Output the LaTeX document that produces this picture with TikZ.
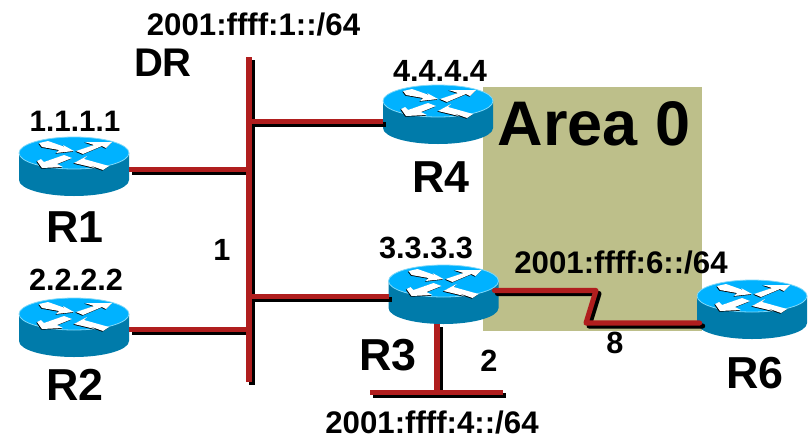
\documentclass[tikz,border=0pt]{standalone}
\usepackage{fontspec}
\setmainfont{Liberation Sans}
\definecolor{rtop}{HTML}{00B2FF}
\definecolor{rside}{HTML}{007BAA}
\definecolor{redge}{HTML}{7FD8F8}
\definecolor{area}{HTML}{BDBF8A}
\definecolor{linkred}{HTML}{B01E1E}
\newcommand{\ptfont}[1]{\fontsize{#1pt}{#1pt}\selectfont\bfseries}
\newcommand{\routerarrows}[1]{%
  \fill[#1] (2,-2) -- (20,-8) -- (11,-11) -- (38,-11) -- (32,-5) -- (28,-7) -- (9,1) -- cycle;
  \fill[#1] (-35,-10) -- (-26,-12) -- (-9,-6) -- (-11,-8) -- (0,-2) -- (-18,0) -- (-15,-3) -- (-32,-6) -- cycle;
  \fill[#1] (-37,8) -- (-33,6) -- (-30,9) -- (-10,2) -- (-2,5) -- (-17,11) -- (-11,14) -- (-32,15) -- cycle;
  \fill[#1] (0,10) -- (13,3) -- (10,6) -- (35,13) -- (29,17) -- (15,12) -- (21,15) -- cycle;}
\newcommand{\routerdraw}[3]{%
  \node[routerbox] (#1) at (#2,#3+13.5) {};
  \begin{scope}[shift={(#2,#3)}]
    \fill[rside] (-55,0) -- (-55,27) arc[start angle=180,end angle=0,x radius=55,y radius=16] -- (55,0) -- cycle;
    \fill[rtop,draw=redge,line width=0.6pt] (0,0) ellipse[x radius=55,y radius=16];
    \begin{scope}[shift={(-0.7,0.7)}]
      \routerarrows{black}
    \end{scope}
    \routerarrows{white}
  \end{scope}}
\newcommand{\netpaths}[1]{%
  \draw[#1] (bustop) -- (busbot);
  \draw[#1] ([yshift=-2.25pt]R1.east) -- ([yshift=-2.25pt]bustop |- R1.east);
  \draw[#1] ([yshift=-1.5pt]R2.east) -- ([yshift=-1.5pt]bustop |- R2.east);
  \draw[#1] ([yshift=-4.9pt]R4.west) -- ([yshift=-4.9pt]bustop |- R4.west);
  \draw[#1] ([yshift=-1.5pt]R3.west) -- ([yshift=-1.5pt]bustop |- R3.west);
  \draw[#1] (stubl) -- (stubr);
  \draw[#1] ([xshift=-4.9pt]R3.south) -- ([xshift=-4.9pt]R3.south |- stubl);
  \draw[#1,line cap=round] ([yshift=3pt,xshift=-3pt]R3.east) -- ([yshift=3pt]R3.east -| k1) -- (k1) -- (k2) -- ([xshift=2pt]k2 -| R6.west);}
\tikzset{
  routerbox/.style={inner sep=0pt,outer sep=0pt,minimum width=82.5pt,minimum height=44.25pt,draw=none},
  linkline/.style={draw=linkred,line width=3.8pt,line join=round},
  linkshadow/.style={draw=black,line width=3.8pt,line join=round,transform canvas={xshift=2.25pt,yshift=-2.25pt}},
  lab/.style={inner sep=0pt,outer sep=0pt,text=black,font=\ptfont{23}},
  iplab/.style={inner sep=0pt,outer sep=0pt,text=black,font=\ptfont{23.4}},
  biglab/.style={inner sep=0pt,outer sep=0pt,text=black,font=\ptfont{33.6}},
}
\begin{document}
\begin{tikzpicture}[x=0.75pt,y=-0.75pt]
\useasboundingbox (0,0) rectangle (809,436);
\fill[area] (483,87) rectangle (702,331);
\routerdraw{R1}{74}{153}
\routerdraw{R2}{74}{314}
\routerdraw{R3}{443.5}{281}
\routerdraw{R4}{438}{101}
\routerdraw{R6}{752}{296}
\coordinate (bustop) at (249,57);
\coordinate (busbot) at (249,382);
\coordinate (stubl) at (370,392.5);
\coordinate (stubr) at (503,392.5);
\coordinate (k1) at (596,290.5);
\coordinate (k2) at (586,323);
\netpaths{linkshadow}
\netpaths{linkline}
\node[iplab] (t1) at (253.5,25) {2001:ffff:1::/64};
\node[lab,font=\ptfont{30}] (dr) at (163,63) {DR};
\node[lab] (t4) at (440,71) {4.4.4.4};
\node[biglab] (l4) at (441,177) {R4};
\node[lab,font=\ptfont{22.2}] (t11) at (75,121) {1.1.1.1};
\node[biglab] (l1) at (75,227) {R1};
\node[lab] (t2) at (76,280) {2.2.2.2};
\node[biglab] (l2) at (75,385) {R2};
\node[lab] (n1) at (222,250) {1};
\node[lab] (t3) at (426,248) {3.3.3.3};
\node[biglab] (l3) at (388,355) {R3};
\node[lab] (n2) at (489,361) {2};
\node[iplab] (t44) at (432,422.5) {2001:ffff:4::/64};
\node[lab] (n8) at (615,343) {8};
\node[iplab] (t6) at (621,263) {2001:ffff:6::/64};
\node[biglab] (l6) at (755,373) {R6};
\node[lab,font=\ptfont{47.25}] (a0) at (594,124) {Area 0};
\end{tikzpicture}
\end{document}
